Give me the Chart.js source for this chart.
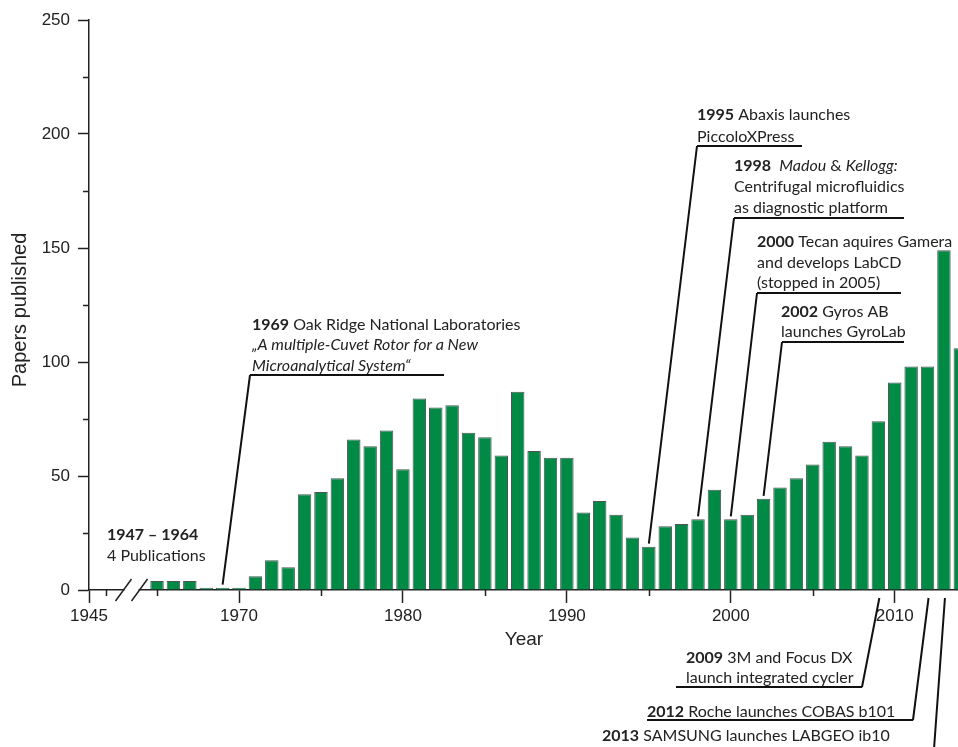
<!DOCTYPE html>
<html>
<head>
<meta charset="utf-8">
<script src="https://cdn.jsdelivr.net/npm/chart.js@4"></script>
<style>
  html, body { margin: 0; padding: 0; background: #fff; overflow: hidden; }
</style>
</head>
<body>
<canvas id="chart" width="980" height="747"></canvas>
<script>
// data
const years = [1965, 1966, 1967, 1968, 1969, 1970, 1971, 1972, 1973, 1974,
               1975, 1976, 1977, 1978, 1979, 1980, 1981, 1982, 1983, 1984,
               1985, 1986, 1987, 1988, 1989, 1990, 1991, 1992, 1993, 1994,
               1995, 1996, 1997, 1998, 1999, 2000, 2001, 2002, 2003, 2004,
               2005, 2006, 2007, 2008, 2009, 2010, 2011, 2012, 2013, 2014];
const papers = [4, 4, 4, 1, 1, 1, 6, 13, 10, 42,
                43, 49, 66, 63, 70, 53, 84, 80, 81, 69,
                67, 59, 87, 61, 58, 58, 34, 39, 33, 23,
                19, 28, 29, 31, 44, 31, 33, 40, 45, 49,
                55, 65, 63, 59, 74, 91, 98, 98, 149, 106];

const xMajorTicks = [1945, 1970, 1980, 1990, 2000, 2010];
const xMinorTicks = [1950, 1965, 1975, 1985, 1995, 2005];
const yMinorTicks = [25, 75, 125, 175, 225];

// broken axis: years before 1965 are squeezed
const BREAK_YEAR = 1965;
const BREAK_SQUEEZE = 0.2075;
function axisYear(y) {
  return y >= BREAK_YEAR ? y : BREAK_YEAR - (BREAK_YEAR - y) * BREAK_SQUEEZE;
}

const TXT = '#222';
const AXIS_FONT = '"Liberation Sans", Arial, sans-serif';
const NOTE_FONT = 'Lato, "Open Sans", sans-serif';

// annotations: lines are lists of [text, style]; b = bold, i = italic
const notes = [
  { year: null, x: 107, ys: [535, 556],
    lines: [[['1947 \u2013 1964', 'b']], [['4 Publications', '']]] },
  { year: 1969, x: 252, ys: [325, 345, 366], ul: [250, 444, 375], side: 'top',
    lines: [[['1969', 'b'], [' Oak Ridge National Laboratories', '']],
            [['\u201eA multiple-Cuvet Rotor for a New', 'i']],
            [['Microanalytical System\u201c', 'i']]] },
  { year: 1995, x: 697, ys: [115, 137], ul: [697, 802, 146], side: 'top',
    lines: [[['1995', 'b'], [' Abaxis launches', '']],
            [['PiccoloXPress', '']]] },
  { year: 1998, x: 734, ys: [166, 187, 208], ul: [734, 904, 218], side: 'top',
    lines: [[['1998', 'b'], ['  ', ''], ['Madou', 'i'], [' & ', ''], ['Kellogg:', 'i']],
            [['Centrifugal microfluidics', '']],
            [['as diagnostic platform', '']]] },
  { year: 2000, x: 757, ys: [242, 263, 283], ul: [757, 901, 293], side: 'top',
    lines: [[['2000', 'b'], [' Tecan aquires Gamera', '']],
            [['and develops LabCD', '']],
            [['(stopped in 2005)', '']]] },
  { year: 2002, x: 781, ys: [312, 332], ul: [782, 904, 342], side: 'top',
    lines: [[['2002', 'b'], [' Gyros AB', '']],
            [['launches GyroLab', '']]] },
  { year: 2009, x: 686, ys: [658, 678], ul: [676, 862, 687], side: 'bottom',
    lines: [[['2009', 'b'], [' 3M and Focus DX', '']],
            [['launch integrated cycler', '']]] },
  { year: 2012, x: 647, ys: [712], ul: [647, 913, 720], side: 'bottom',
    lines: [[['2012', 'b'], [' Roche launches COBAS b101', '']]] },
  { year: 2013, x: 602, ys: [736], ul: [602, 934, 749], side: 'bottom',
    lines: [[['2013', 'b'], [' SAMSUNG launches LABGEO ib10', '']]] }
];

function noteFont(style) {
  const w = style === 'b' ? 'bold ' : '';
  const s = style === 'i' ? 'italic ' : '';
  return s + w + '16px ' + NOTE_FONT;
}

const extras = {
  id: 'extras',
  afterDraw(chart) {
    const ctx = chart.ctx;
    const xs = chart.scales.x, ys = chart.scales.y;
    const y0 = ys.getPixelForValue(0);
    const left = chart.chartArea.left;
    ctx.save();
    ctx.strokeStyle = TXT;
    ctx.lineWidth = 1.5;
    // minor ticks
    ctx.beginPath();
    yMinorTicks.forEach(v => {
      const p = Math.round(ys.getPixelForValue(v)) + 0.5;
      ctx.moveTo(left - 6, p); ctx.lineTo(left, p);
    });
    xMinorTicks.forEach(v => {
      const p = Math.round(xs.getPixelForValue(axisYear(v))) + 0.5;
      ctx.moveTo(p, y0); ctx.lineTo(p, y0 + 6);
    });
    ctx.stroke();
    // axis break
    const bx = (xs.getPixelForValue(axisYear(1950)) + xs.getPixelForValue(axisYear(1965))) / 2;
    ctx.fillStyle = '#fff';
    ctx.fillRect(bx - 7, y0 - 3, 14, 6);
    ctx.beginPath();
    [-8, 8].forEach(d => {
      ctx.moveTo(bx + d - 8, y0 + 11);
      ctx.lineTo(bx + d + 8, y0 - 11);
    });
    ctx.stroke();

    // axis titles
    ctx.fillStyle = TXT;
    ctx.font = '19px ' + AXIS_FONT;
    ctx.textAlign = 'center';
    ctx.textBaseline = 'middle';
    ctx.fillText('Year', 524, 640);
    ctx.save();
    ctx.translate(20, 310);
    ctx.rotate(-Math.PI / 2);
    ctx.font = '20px ' + AXIS_FONT;
    ctx.fillText('Papers published', 0, 0);
    ctx.restore();

    // annotations
    ctx.textAlign = 'left';
    ctx.fillStyle = TXT;
    notes.forEach(n => {
      n.lines.forEach((parts, i) => {
        let x = n.x;
        parts.forEach(([t, st]) => {
          ctx.font = noteFont(st);
          ctx.fillText(t, x, n.ys[i]);
          x += ctx.measureText(t).width;
        });
      });
      if (!n.ul) return;
      const [u0, u1, uy] = n.ul;
      const idx = years.indexOf(n.year);
      const bxp = xs.getPixelForValue(axisYear(n.year));
      ctx.strokeStyle = '#111';
      ctx.lineWidth = 2;
      ctx.beginPath();
      ctx.moveTo(u1, uy);
      ctx.lineTo(u0, uy);
      if (n.side === 'top') {
        ctx.moveTo(u0, uy);
        ctx.lineTo(bxp, ys.getPixelForValue(papers[idx]) - 3);
      } else {
        ctx.moveTo(u1, uy);
        ctx.lineTo(bxp + 1, y0 + 8);
      }
      ctx.stroke();
    });
    ctx.restore();
  }
};

new Chart(document.getElementById('chart'), {
  type: 'bar',
  data: {
    datasets: [{
      label: 'Papers published',
      data: years.map((y, i) => ({ x: axisYear(y), y: papers[i] })),
      backgroundColor: '#008a45',
      borderColor: 'rgba(45,55,50,0.85)',
      borderWidth: 1,
      categoryPercentage: 0.82,
      barPercentage: 1
    }]
  },
  options: {
    responsive: false,
    devicePixelRatio: 1,
    animation: false,
    layout: { padding: { top: 20, left: 0, right: 0, bottom: 0 } },
    plugins: { legend: { display: false }, tooltip: { enabled: false } },
    scales: {
      x: {
        type: 'linear',
        offset: false,
        min: axisYear(1945),
        max: 2015.2,
        afterFit: s => { s.height = 747 - 590; },
        afterBuildTicks: s => { s.ticks = xMajorTicks.map(v => ({ value: axisYear(v) })); },
        ticks: {
          autoSkip: false,
          maxRotation: 0,
          padding: 3,
          color: TXT,
          font: { family: AXIS_FONT, size: 17 },
          callback: (v, i) => String(xMajorTicks[i])
        },
        grid: { offset: false, drawOnChartArea: false, tickLength: 13, tickColor: TXT, tickWidth: 1.5 },
        border: { color: TXT, width: 1.5 }
      },
      y: {
        min: 0,
        max: 250,
        afterFit: s => { s.width = 89; },
        ticks: {
          stepSize: 50,
          padding: 8,
          color: TXT,
          font: { family: AXIS_FONT, size: 17 }
        },
        grid: { drawOnChartArea: false, tickLength: 11, tickColor: TXT, tickWidth: 1.5 },
        border: { color: TXT, width: 1.5 }
      }
    }
  },
  plugins: [extras]
});
</script>
</body>
</html>
